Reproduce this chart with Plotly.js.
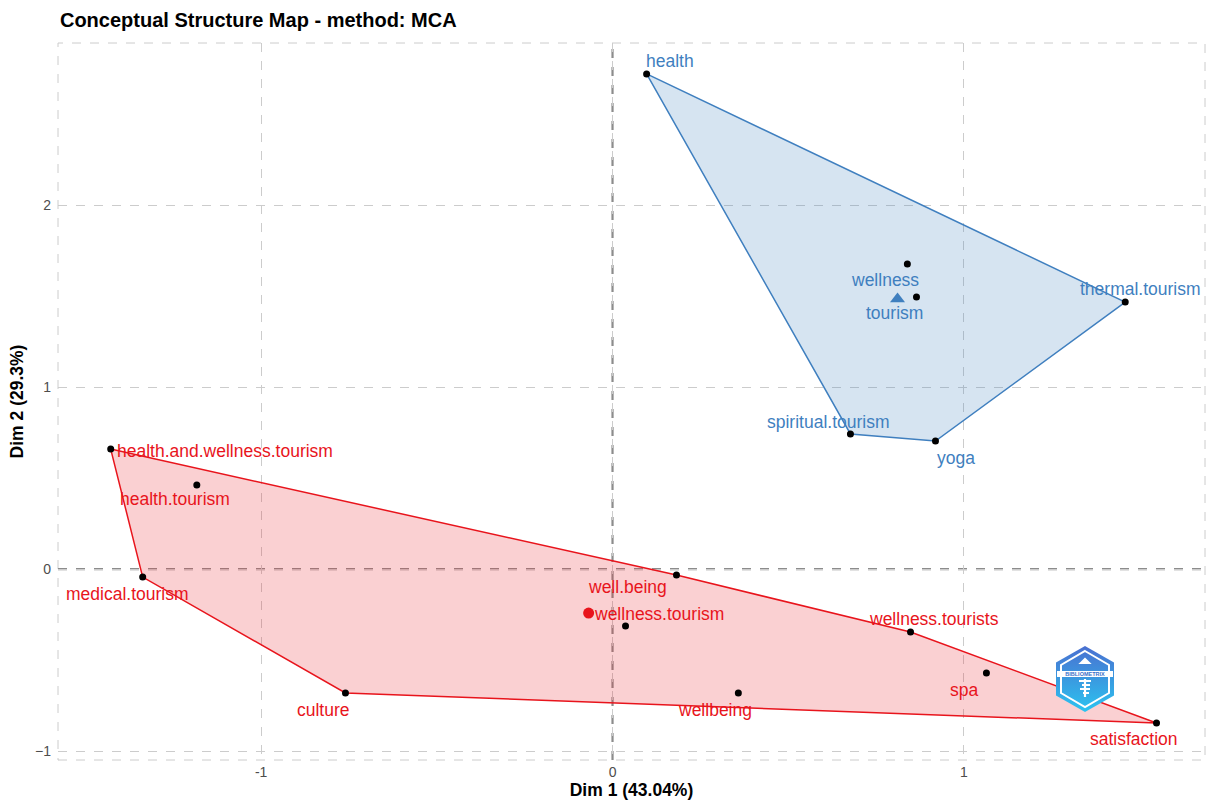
<!DOCTYPE html>
<html>
<head>
<meta charset="utf-8">
<script src="https://cdn.plot.ly/plotly-3.0.1.min.js"></script>
<style>html,body{margin:0;padding:0;background:#fff;}#chart{width:1211px;height:804px;}</style>
</head>
<body>
<div id="chart"></div>
<script>
// ---- data ----
const blueWords = ["health","wellness","tourism","thermal.tourism","spiritual.tourism","yoga"];
const blueX = [0.097, 0.839, 0.865, 1.459, 0.677, 0.919];
const blueY = [2.720, 1.676, 1.495, 1.467, 0.742, 0.703];
const blueCentroid = [0.811, 1.484];

const redWords = ["health.and.wellness.tourism","health.tourism","medical.tourism","culture","well.being","wellness.tourism","wellness.tourists","spa","wellbeing","satisfaction"];
const redX = [-1.428, -1.183, -1.337, -0.760, 0.182, 0.037, 0.848, 1.064, 0.358, 1.548];
const redY = [0.659, 0.462, -0.044, -0.681, -0.033, -0.313, -0.346, -0.571, -0.681, -0.846];
const redCentroid = [-0.068, -0.242];

const xTicks = [-1, 0, 1];
const yTicks = [-1, 0, 1, 2];

// label pixel offsets (style)
const blueOff = [[23,13],[-22,-16],[-22,-16],[15,13],[-22,12],[21,-17]];
const redOff = [[null,-2],[-22,-14],[-15,-17],[-22,-17],[-49,-12],[33,12],[23,13],[-22,-17],[-23,-17],[-23,-16]];

const BLUE = "#3F7FBF", BLUEFILL = "rgba(70,130,190,0.22)";
const RED = "#E8141C", REDFILL = "rgba(232,40,50,0.22)";
const FONT = "Liberation Sans, Arial, sans-serif";

function hull(xs, ys){
  const pts = xs.map((x,i)=>[x,ys[i]]).sort((a,b)=>a[0]-b[0]||a[1]-b[1]);
  const cross=(o,a,b)=>(a[0]-o[0])*(b[1]-o[1])-(a[1]-o[1])*(b[0]-o[0]);
  const lo=[],up=[];
  for(const p of pts){while(lo.length>=2&&cross(lo[lo.length-2],lo[lo.length-1],p)<=0)lo.pop();lo.push(p);}
  for(let i=pts.length-1;i>=0;i--){const p=pts[i];while(up.length>=2&&cross(up[up.length-2],up[up.length-1],p)<=0)up.pop();up.push(p);}
  up.pop();lo.pop();
  const h=lo.concat(up); h.push(h[0]);
  return {x:h.map(p=>p[0]), y:h.map(p=>p[1])};
}
const bh = hull(blueX, blueY), rh = hull(redX, redY);

const traces = [
  {x:bh.x, y:bh.y, type:"scatter", mode:"lines", fill:"toself", fillcolor:BLUEFILL, line:{color:BLUE,width:1.5}, hoverinfo:"skip"},
  {x:rh.x, y:rh.y, type:"scatter", mode:"lines", fill:"toself", fillcolor:REDFILL, line:{color:RED,width:1.5}, hoverinfo:"skip"},
  {x:[blueCentroid[0]], y:[blueCentroid[1]], type:"scatter", mode:"markers", marker:{symbol:"triangle-up", size:13, color:BLUE}},
  {x:[redCentroid[0]], y:[redCentroid[1]], type:"scatter", mode:"markers", marker:{symbol:"circle", size:11, color:RED}},
  {x:blueX.concat(redX), y:blueY.concat(redY), type:"scatter", mode:"markers", marker:{color:"#000", size:7}}
];

const annotations = [];
function addLabels(words, xs, ys, offs, color){
  words.forEach((w,i)=>{
    const o = offs[i];
    const a = {x:xs[i], y:ys[i], text:w, showarrow:false, font:{family:FONT, size:17.5, color:color}, yshift:o[1]};
    if(o[0]===null){a.xanchor="left"; a.xshift=4;} else {a.xshift=o[0];}
    annotations.push(a);
  });
}
addLabels(blueWords, blueX, blueY, blueOff, BLUE);
addLabels(redWords, redX, redY, redOff, RED);

const logo = 'data:image/svg+xml;utf8,' + encodeURIComponent(
 '<svg xmlns="http://www.w3.org/2000/svg" width="60" height="68" viewBox="0 0 60 68">'+
 '<defs><linearGradient id="g" x1="0" y1="0" x2="0" y2="1"><stop offset="0" stop-color="#4A6FD0"/><stop offset="1" stop-color="#2BC4F0"/></linearGradient></defs>'+
 '<polygon points="30,1 59,17.5 59,50.5 30,67 1,50.5 1,17.5" fill="url(#g)"/>'+
 '<polygon points="30,6 54,20 54,48 30,62 6,48 6,20" fill="none" stroke="#fff" stroke-width="2"/>'+
 '<rect x="2" y="26" width="56" height="6" fill="#fff"/>'+
 '<text x="30" y="31" font-family="Liberation Sans,Arial" font-size="5.5" font-weight="bold" fill="#3A6FC8" text-anchor="middle">BIBLIOMETRIX</text>'+
 '<path d="M26 18 L30 14 L34 18 Z M24 36 h12 M27 40 h8 M25 44 h10 M28 48 h6 M30 34 v18" stroke="#fff" stroke-width="2.2" fill="#fff"/>'+
 '</svg>');

const layout = {
  width:1211, height:804,
  margin:{l:58, r:6, t:43, b:44},
  paper_bgcolor:"#fff", plot_bgcolor:"#fff",
  showlegend:false,
  font:{family:FONT, color:"#4D4D4D"},
  title:{text:"<b>Conceptual Structure Map - method: MCA</b>", x:0.0495, xanchor:"left", y:0.975, yanchor:"middle", font:{size:20, color:"#000"}},
  xaxis:{range:[-1.578,1.686], tickvals:xTicks, ticktext:xTicks.map(v=>v<0?"-"+Math.abs(v):String(v)), showgrid:true, gridcolor:"#CCCCCC", griddash:"dash", gridwidth:1,
    zeroline:false, showline:false, ticks:"", tickfont:{size:14,color:"#4D4D4D"}, ticklabelstandoff:2,
    title:{text:"<b>Dim 1 (43.04%)</b>", font:{size:17.5,color:"#000"}, standoff:4}},
  yaxis:{range:[-1.049,2.89], tickvals:yTicks, showgrid:true, gridcolor:"#CCCCCC", griddash:"dash", gridwidth:1,
    zeroline:false, showline:false, ticks:"", tickfont:{size:14,color:"#4D4D4D"}, ticklabelstandoff:6,
    title:{text:"<b>Dim 2 (29.3%)</b>", font:{size:17.5,color:"#000"}, standoff:6}},
  shapes:[
    {type:"rect", xref:"paper", yref:"paper", x0:0, x1:1, y0:0, y1:1, line:{color:"#CCCCCC", width:1, dash:"dash"}, layer:"below"},
    {type:"line", xref:"x", yref:"paper", x0:0, x1:0, y0:0, y1:1, line:{color:"#8C8C8C", width:2.2, dash:"dash"}, layer:"below"},
    {type:"line", xref:"paper", yref:"y", x0:0, x1:1, y0:0, y1:0, line:{color:"#8C8C8C", width:2.2, dash:"dash"}, layer:"below"}
  ],
  images:[{source:logo, xref:"paper", yref:"paper", x:(1085-58)/1147, y:(804-44-679)/717, sizex:60/1147, sizey:68/717, xanchor:"center", yanchor:"middle", sizing:"contain", layer:"above"}],
  annotations:annotations
};

Plotly.newPlot("chart", traces, layout, {displayModeBar:false, staticPlot:true});
</script>
</body>
</html>
